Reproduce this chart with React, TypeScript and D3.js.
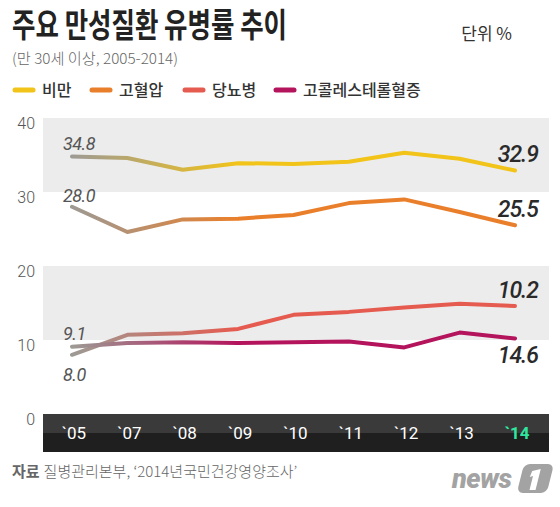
import React from "react";
import * as d3 from "d3";

const categories = ["`05", "`07", "`08", "`09", "`10", "`11", "`12", "`13", "`14"];
const obesity = [34.8, 34.6, 33.0, 33.9, 33.8, 34.1, 35.3, 34.5, 32.9];
const hypertension = [28.0, 24.6, 26.3, 26.4, 26.9, 28.5, 29.0, 27.3, 25.5];
const diabetesLine = [8.0, 10.7, 10.9, 11.5, 13.4, 13.8, 14.4, 14.9, 14.6];
const cholesterolLine = [9.1, 9.6, 9.7, 9.6, 9.7, 9.8, 9.0, 11.0, 10.2];
const yTicks = [0, 10, 20, 30, 40];
const legendNames = ["비만", "고혈압", "당뇨병", "고콜레스테롤혈증"];
const seriesColors = ["#f2c319", "#ea7f2b", "#e65b4f", "#b3145c"];

const KR = "'Noto Sans CJK KR', 'Noto Sans', sans-serif";
const NUM = "Roboto, 'Liberation Sans', sans-serif";

export default function App() {
  const W = 560, H = 507;
  const x = d3.scalePoint<string>().domain(categories).range([72, 515]);
  const y = d3.scaleLinear().domain([0, 40]).range([414, 118]);
  const line = d3
    .line<number>()
    .x((_, i) => x(categories[i]) as number)
    .y((d) => y(d))
    .curve(d3.curveLinear);
  const series = [obesity, hypertension, diabetesLine, cholesterolLine];
  const bandX0 = 43, bandX1 = 549;

  const legendX = [13, 90, 183, 274];

  return (
    <svg width={W} height={H} style={{ position: "absolute", left: 0, top: 0, background: "#fff" }}>
      <defs>
        {seriesColors.map((c, i) => (
          <linearGradient key={i} id={`g${i}`} gradientUnits="userSpaceOnUse" x1={x(categories[0])} x2={x(categories[3])} y1={0} y2={0}>
            <stop offset="0" stopColor="#9d9a94" />
            <stop offset="1" stopColor={c} />
          </linearGradient>
        ))}
      </defs>
      <rect x={0} y={0} width={W} height={H} fill="#fff" />

      {/* Title */}
      <text x={12} y={37} fontFamily={KR} fontWeight={700} fontSize={33} fill="#222" textLength={275} lengthAdjust="spacingAndGlyphs">
        주요 만성질환 유병률 추이
      </text>
      <text x={12} y={64} fontFamily={KR} fontWeight={300} fontSize={15} fill="#666" textLength={166} lengthAdjust="spacingAndGlyphs">
        (만 30세 이상, 2005-2014)
      </text>
      <text x={512} y={40} textAnchor="end" fontFamily={KR} fontSize={17} fill="#333">
        단위 %
      </text>

      {/* Legend */}
      {legendNames.map((n, i) => (
        <g key={n}>
          <line x1={legendX[i] + 2} x2={legendX[i] + 20} y1={90} y2={90} stroke={seriesColors[i]} strokeWidth={5} strokeLinecap="round" />
          <text x={legendX[i] + 29} y={96} fontFamily={KR} fontSize={16} fontWeight={500} fill="#333">
            {n}
          </text>
        </g>
      ))}

      {/* Bands */}
      <rect x={bandX0} y={y(40)} width={bandX1 - bandX0} height={y(30) - y(40)} fill="#ececec" />
      <rect x={bandX0} y={y(20)} width={bandX1 - bandX0} height={y(10) - y(20)} fill="#ececec" />
      <rect x={bandX0} y={y(0)} width={bandX1 - bandX0} height={19} fill="#3a3a3a" />
      <rect x={bandX0} y={y(0) + 19} width={bandX1 - bandX0} height={19} fill="#1f1f1f" />

      {/* Y ticks */}
      {yTicks.map((t) => (
        <text key={t} x={35} y={y(t) + 11} textAnchor="end" fontFamily={NUM} fontWeight={300} fontSize={16} fill="#555">
          {t}
        </text>
      ))}

      {/* X labels */}
      {categories.map((c, i) => (
        <text
          key={c}
          x={(x(c) as number) + 2}
          y={439}
          textAnchor="middle"
          fontFamily={NUM}
          fontSize={17}
          fontWeight={i === categories.length - 1 ? 700 : 400}
          fill={i === categories.length - 1 ? "#2fe6a0" : "#fff"}
        >
          {c}
        </text>
      ))}

      {/* Lines */}
      {series.map((s, i) => (
        <path key={i} d={line(s) || ""} fill="none" stroke={`url(#g${i})`} strokeWidth={4} strokeLinecap="round" strokeLinejoin="round" />
      ))}

      {/* Start labels */}
      <text x={63} y={150} fontFamily={NUM} fontStyle="italic" fontSize={18} fill="#555" letterSpacing={-0.5}>{obesity[0].toFixed(1)}</text>
      <text x={63} y={202} fontFamily={NUM} fontStyle="italic" fontSize={18} fill="#555" letterSpacing={-0.5}>{hypertension[0].toFixed(1)}</text>
      <text x={63} y={340} fontFamily={NUM} fontStyle="italic" fontSize={18} fill="#555" letterSpacing={-0.5}>{cholesterolLine[0].toFixed(1)}</text>
      <text x={63} y={381} fontFamily={NUM} fontStyle="italic" fontSize={18} fill="#555" letterSpacing={-0.5}>{diabetesLine[0].toFixed(1)}</text>

      {/* End labels */}
      <text x={538} y={162} textAnchor="end" fontFamily={NUM} fontStyle="italic" fontWeight={500} fontSize={23} fill="#2a2a2a" letterSpacing={-1}>{obesity[8].toFixed(1)}</text>
      <text x={538} y={217} textAnchor="end" fontFamily={NUM} fontStyle="italic" fontWeight={500} fontSize={23} fill="#2a2a2a" letterSpacing={-1}>{hypertension[8].toFixed(1)}</text>
      <text x={538} y={298} textAnchor="end" fontFamily={NUM} fontStyle="italic" fontWeight={500} fontSize={23} fill="#2a2a2a" letterSpacing={-1}>{cholesterolLine[8].toFixed(1)}</text>
      <text x={538} y={363} textAnchor="end" fontFamily={NUM} fontStyle="italic" fontWeight={500} fontSize={23} fill="#2a2a2a" letterSpacing={-1}>{diabetesLine[8].toFixed(1)}</text>

      {/* Footer */}
      <text x={12} y={477} fontFamily={KR} fontSize={15} fill="#666">
        <tspan fontWeight={700}>자료</tspan>
        <tspan fontWeight={300} dx={4}>질병관리본부, ‘2014년국민건강영양조사’</tspan>
      </text>

      {/* Logo */}
      <text x={452} y={488} fontFamily={NUM} fontStyle="italic" fontWeight={900} fontSize={27} fill="#a3a3a3" letterSpacing={-0.5}>
        news
      </text>
      <g transform="translate(520,464) skewX(-14)">
        <rect x={4} y={0} width={30} height={29} rx={6} fill="#a3a3a3" />
        <path d="M 14 7 L 22 5 L 22 26 L 16 26 L 16 12 L 13 13 Z" fill="#fff" />
      </g>
    </svg>
  );
}
